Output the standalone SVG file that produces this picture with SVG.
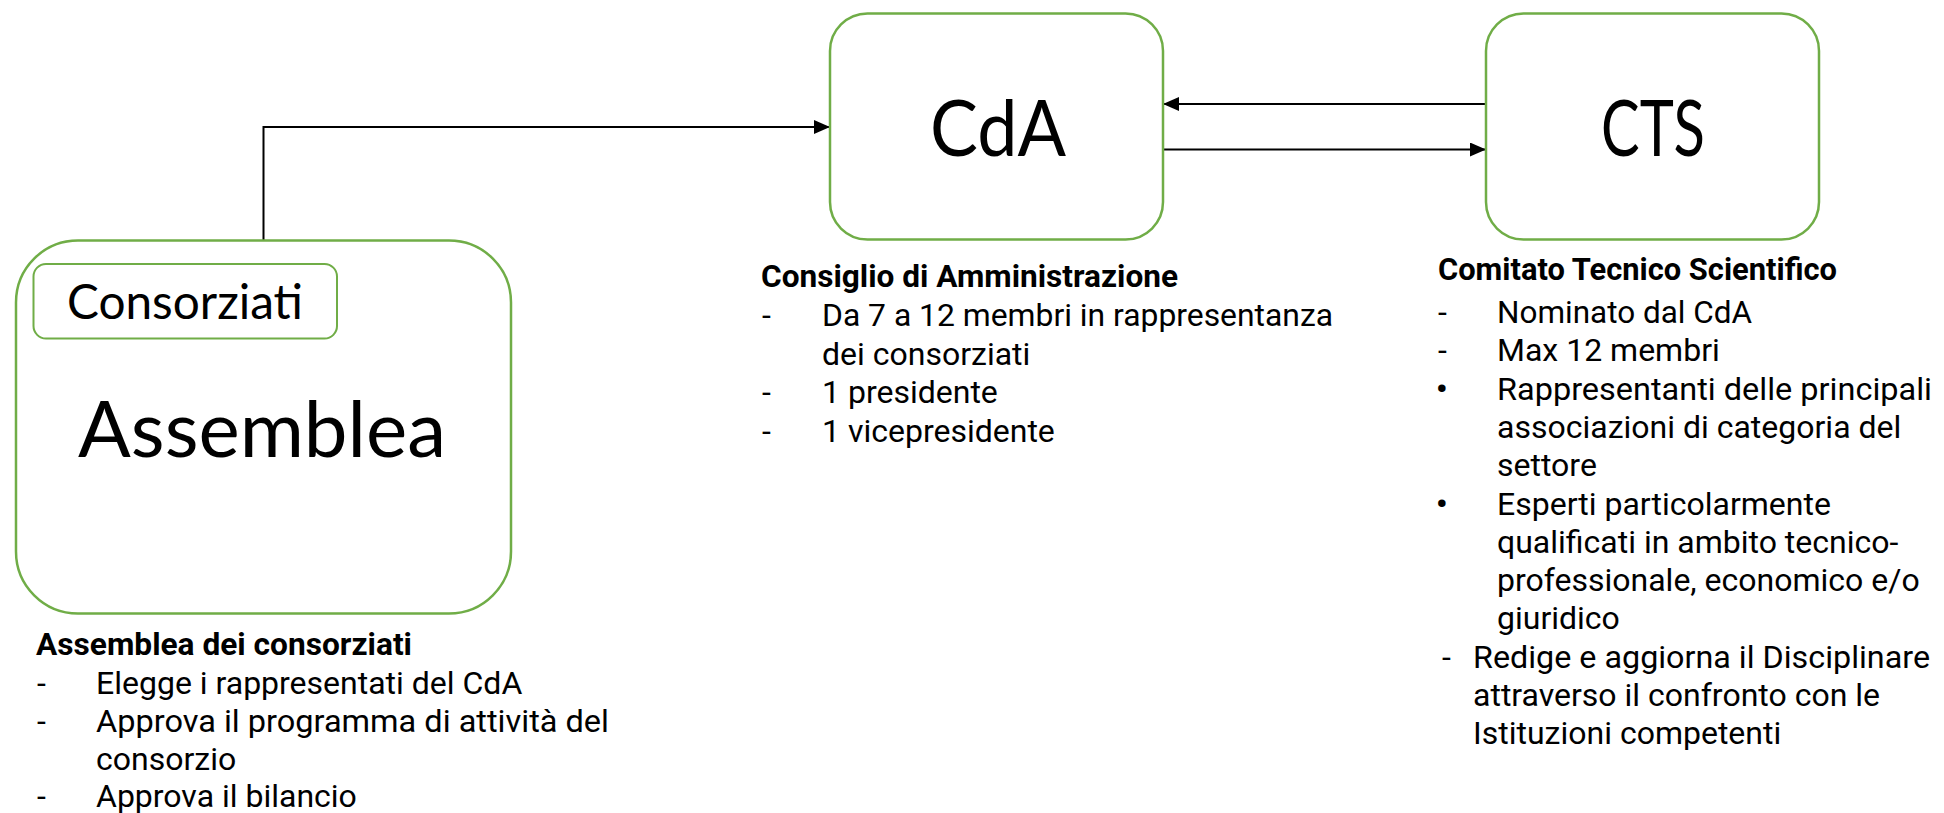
<svg xmlns="http://www.w3.org/2000/svg" width="1944" height="813" viewBox="0 0 1944 813">
<style>
.box{fill:#fff;stroke:#70AD47;stroke-width:2.5}
.sub{fill:#fff;stroke:#70AD47;stroke-width:2}
.lbl{font-family:Lato,"Open Sans","Liberation Sans",sans-serif;fill:#000;text-anchor:middle}
.h{font-family:Roboto,"Liberation Sans",sans-serif;font-weight:bold;font-size:31.5px;fill:#000}
.t{font-family:Roboto,"Liberation Sans",sans-serif;font-size:32px;fill:#000}
.b{font-family:Roboto,"Liberation Sans",sans-serif;font-size:32px;font-weight:bold;fill:#000}
.con{fill:none;stroke:#000;stroke-width:2}
</style>
<defs>
<marker id="arr" markerWidth="16" markerHeight="14" refX="16" refY="7" orient="auto" markerUnits="userSpaceOnUse">
<path d="M0,0 L16,7 L0,14 Z" fill="#000"/>
</marker>
</defs>
<rect width="1944" height="813" fill="#fff"/>
<g id="connectors">
<path class="con" d="M263.5,240 V127 H830" marker-end="url(#arr)"/>
<path class="con" d="M1486,104 H1163" marker-end="url(#arr)"/>
<path class="con" d="M1163,149.5 H1486" marker-end="url(#arr)"/>
</g>
<g id="assemblea">
<rect class="box" x="16" y="240.5" width="495" height="373" rx="62" ry="62"/>
<rect class="sub" x="33.5" y="264" width="303.5" height="74.5" rx="12.5" ry="12.5"/>
<text class="lbl" x="185" y="319" font-size="47.5" textLength="236" lengthAdjust="spacingAndGlyphs">Consorziati</text>
<text class="lbl" x="262" y="457" font-size="77" textLength="368" lengthAdjust="spacingAndGlyphs">Assemblea</text>
</g>
<g id="cda">
<rect class="box" x="830" y="13.5" width="333" height="226" rx="37.5" ry="37.5"/>
<text class="lbl" x="998" y="156" font-size="78" textLength="136" lengthAdjust="spacingAndGlyphs">CdA</text>
</g>
<g id="cts">
<rect class="box" x="1486" y="13.5" width="333" height="226" rx="37.5" ry="37.5"/>
<text class="lbl" x="1653" y="156" font-size="78" textLength="104" lengthAdjust="spacingAndGlyphs">CTS</text>
</g>
<g id="assemblea-desc">
<text class="h" x="36" y="655" textLength="376" lengthAdjust="spacingAndGlyphs">Assemblea dei consorziati</text>
<text class="t" x="37" y="694">-</text>
<text class="t" x="96" y="694">Elegge i rappresentati del CdA</text>
<text class="t" x="37" y="732">-</text>
<text class="t" x="96" y="732" textLength="513" lengthAdjust="spacingAndGlyphs">Approva il programma di attività del</text>
<text class="t" x="96" y="769.5">consorzio</text>
<text class="t" x="37" y="807">-</text>
<text class="t" x="96" y="807">Approva il bilancio</text>
</g>
<g id="cda-desc">
<text class="h" x="761" y="287" textLength="417" lengthAdjust="spacingAndGlyphs">Consiglio di Amministrazione</text>
<text class="t" x="762" y="326">-</text>
<text class="t" x="822" y="326" textLength="511" lengthAdjust="spacingAndGlyphs">Da 7 a 12 membri in rappresentanza</text>
<text class="t" x="822" y="364.5">dei consorziati</text>
<text class="t" x="762" y="403">-</text>
<text class="t" x="822" y="403">1 presidente</text>
<text class="t" x="762" y="441.5">-</text>
<text class="t" x="822" y="441.5">1 vicepresidente</text>
</g>
<g id="cts-desc">
<text class="h" x="1438" y="280" textLength="399" lengthAdjust="spacingAndGlyphs">Comitato Tecnico Scientifico</text>
<text class="t" x="1438" y="323">-</text>
<text class="t" x="1497" y="323" textLength="255" lengthAdjust="spacingAndGlyphs">Nominato dal CdA</text>
<text class="t" x="1438" y="361.3">-</text>
<text class="t" x="1497" y="361.3">Max 12 membri</text>
<text class="b" x="1436" y="399.6">•</text>
<text class="t" x="1497" y="399.6" textLength="435" lengthAdjust="spacingAndGlyphs">Rappresentanti delle principali</text>
<text class="t" x="1497" y="437.9">associazioni di categoria del</text>
<text class="t" x="1497" y="476.2">settore</text>
<text class="b" x="1436" y="514.5">•</text>
<text class="t" x="1497" y="514.5">Esperti particolarmente</text>
<text class="t" x="1497" y="552.8">qualificati in ambito tecnico-</text>
<text class="t" x="1497" y="591.1">professionale, economico e/o</text>
<text class="t" x="1497" y="629.4">giuridico</text>
<text class="t" x="1442" y="667.7">-</text>
<text class="t" x="1473" y="667.7" textLength="457" lengthAdjust="spacingAndGlyphs">Redige e aggiorna il Disciplinare</text>
<text class="t" x="1473" y="706">attraverso il confronto con le</text>
<text class="t" x="1473" y="744.3">Istituzioni competenti</text>
</g>
</svg>
